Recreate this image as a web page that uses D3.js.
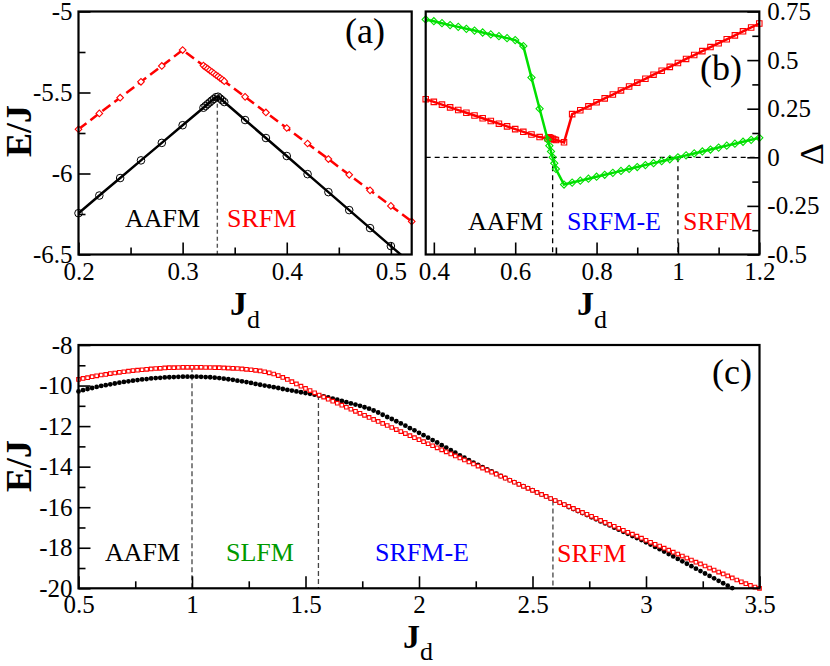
<!DOCTYPE html>
<html>
<head>
<meta charset="utf-8">
<script src="https://cdn.jsdelivr.net/npm/d3@7"></script>
<style>
  body { margin: 0; background: #fff; }
  svg { display: block; }
  svg text { font-family: "Liberation Serif", "Times New Roman", serif; }
</style>
</head>
<body>
<svg id="chart" width="830" height="666"></svg>
<script>
// ---- panel (a): energies near the AAFM / SRFM crossing ----
const jdA = [0.20, 0.22, 0.24, 0.26, 0.28, 0.30, 0.32, 0.322, 0.324, 0.326, 0.328, 0.330, 0.332,
  0.334, 0.336, 0.338, 0.340, 0.36, 0.38, 0.40, 0.42, 0.44, 0.46, 0.48, 0.50, 0.52];
const aafmA = [-6.245, -6.136, -6.028, -5.919, -5.811, -5.702, -5.594, -5.583, -5.572, -5.561, -5.550,
  -5.540, -5.529, -5.526, -5.537, -5.548, -5.559, -5.670, -5.781, -5.892, -6.004, -6.115, -6.226,
  -6.337, -6.448, -6.559];
const srfmA = [-5.727, -5.629, -5.532, -5.434, -5.336, -5.238, -5.334, -5.344, -5.353, -5.363, -5.372,
  -5.382, -5.392, -5.401, -5.411, -5.420, -5.430, -5.527, -5.623, -5.719, -5.815, -5.911, -6.008,
  -6.104, -6.200, -6.296];
const xTicksA = [0.2, 0.3, 0.4, 0.5], xMinorA = [0.25, 0.35, 0.45];
const yTicksA = [-5, -5.5, -6, -6.5], yMinorA = [-5.25, -5.75, -6.25];
const transA = 1 / 3;

// ---- panel (b): gaps ----
const jdB = [0.38, 0.40, 0.42, 0.44, 0.46, 0.48, 0.50, 0.52, 0.54, 0.56, 0.58, 0.60, 0.62, 0.64, 0.66,
  0.68, 0.684, 0.688, 0.692, 0.696, 0.70, 0.72, 0.74, 0.76, 0.78, 0.80, 0.82, 0.84, 0.86, 0.88, 0.90,
  0.92, 0.94, 0.96, 0.98, 1.00, 1.02, 1.04, 1.06, 1.08, 1.10, 1.12, 1.14, 1.16, 1.18, 1.20];
const greenB = [0.709, 0.700, 0.690, 0.680, 0.671, 0.661, 0.652, 0.642, 0.632, 0.623, 0.613, 0.603,
  0.572, 0.41, 0.25, 0.09, 0.06, 0.03, 0.0, -0.03, -0.06, -0.14, -0.13, -0.12, -0.11, -0.10, -0.09,
  -0.08, -0.07, -0.06, -0.05, -0.04, -0.03, -0.02, -0.01, 0.0, 0.01, 0.02, 0.03, 0.04, 0.05, 0.06,
  0.07, 0.08, 0.09, 0.10];
const redB = [0.299, 0.285, 0.271, 0.257, 0.243, 0.229, 0.215, 0.201, 0.187, 0.173, 0.159, 0.145,
  0.131, 0.117, 0.104, 0.097, 0.103, 0.099, 0.095, 0.092, 0.089, 0.077, 0.222, 0.242, 0.262, 0.283,
  0.303, 0.323, 0.344, 0.364, 0.384, 0.404, 0.425, 0.445, 0.465, 0.485, 0.506, 0.526, 0.546, 0.567,
  0.587, 0.607, 0.627, 0.648, 0.668, 0.688];
const xTicksB = [0.4, 0.6, 0.8, 1, 1.2], xMinorB = [0.5, 0.7, 0.9, 1.1];
const yTicksB = [0.75, 0.5, 0.25, 0, -0.25, -0.5], yMinorB = [0.625, 0.375, 0.125, -0.125, -0.375];
const transB = [0.692, 1.0];

// ---- panel (c): wide range of J_d ----
const jdC = [0.50, 0.52, 0.54, 0.56, 0.58, 0.60, 0.62, 0.64, 0.66, 0.68, 0.70, 0.72, 0.74, 0.76, 0.78,
  0.80, 0.82, 0.84, 0.86, 0.88, 0.90, 0.92, 0.94, 0.96, 0.98, 1.00, 1.02, 1.04, 1.06, 1.08, 1.10, 1.12,
  1.14, 1.16, 1.18, 1.20, 1.22, 1.24, 1.26, 1.28, 1.30, 1.32, 1.34, 1.36, 1.38, 1.40, 1.42, 1.44, 1.46,
  1.48, 1.50, 1.52, 1.54, 1.56, 1.58, 1.60, 1.62, 1.64, 1.66, 1.68, 1.70, 1.72, 1.74, 1.76, 1.78, 1.80,
  1.82, 1.84, 1.86, 1.88, 1.90, 1.92, 1.94, 1.96, 1.98, 2.00, 2.02, 2.04, 2.06, 2.08, 2.10, 2.12, 2.14,
  2.16, 2.18, 2.20, 2.22, 2.24, 2.26, 2.28, 2.30, 2.32, 2.34, 2.36, 2.38, 2.40, 2.42, 2.44, 2.46, 2.48,
  2.50, 2.52, 2.54, 2.56, 2.58, 2.60, 2.62, 2.64, 2.66, 2.68, 2.70, 2.72, 2.74, 2.76, 2.78, 2.80, 2.82,
  2.84, 2.86, 2.88, 2.90, 2.92, 2.94, 2.96, 2.98, 3.00, 3.02, 3.04, 3.06, 3.08, 3.10, 3.12, 3.14, 3.16,
  3.18, 3.20, 3.22, 3.24, 3.26, 3.28, 3.30, 3.32, 3.34, 3.36, 3.38, 3.40, 3.42, 3.44, 3.46, 3.48, 3.50];
const aafmC = [-10.29, -10.23, -10.17, -10.12, -10.07, -10.02, -9.98, -9.94, -9.90, -9.86, -9.82, -9.79,
  -9.76, -9.73, -9.70, -9.68, -9.65, -9.63, -9.62, -9.60, -9.59, -9.58, -9.57, -9.56, -9.56, -9.56,
  -9.56, -9.57, -9.58, -9.59, -9.61, -9.63, -9.66, -9.69, -9.72, -9.76,
  -9.79, -9.83, -9.87, -9.92, -9.96, -10.00, -10.04, -10.08, -10.12, -10.17,
  -10.21, -10.25, -10.29, -10.33, -10.37, -10.41, -10.45, -10.49, -10.54, -10.59,
  -10.64, -10.70, -10.76, -10.82, -10.88, -10.94, -11.00, -11.07, -11.14, -11.23,
  -11.33, -11.44, -11.55, -11.65, -11.76, -11.87, -11.98, -12.10, -12.21, -12.33,
  -12.45, -12.57, -12.69, -12.81, -12.94, -13.06, -13.19, -13.31, -13.44, -13.56,
  -13.68, -13.80, -13.91, -14.02, -14.13, -14.24, -14.35, -14.46, -14.56, -14.66,
  -14.76, -14.86, -14.96, -15.06, -15.16, -15.27, -15.37, -15.47, -15.58, -15.68,
  -15.78, -15.88, -15.99, -16.09, -16.19, -16.29, -16.39, -16.50, -16.60, -16.70,
  -16.80, -16.90, -17.01, -17.11, -17.21, -17.31, -17.42, -17.52, -17.62, -17.73,
  -17.84, -17.96, -18.07, -18.19, -18.31, -18.43, -18.55, -18.67, -18.79, -18.91,
  -19.03, -19.15, -19.27, -19.39, -19.51, -19.63, -19.75, -19.87, -19.99];
const srfmC = [-9.70, -9.65, -9.61, -9.56, -9.52, -9.48, -9.45, -9.41, -9.38, -9.35, -9.32, -9.29,
  -9.26, -9.24, -9.22, -9.20, -9.18, -9.16, -9.15, -9.13, -9.12, -9.12, -9.11, -9.10, -9.10, -9.10,
  -9.10, -9.10, -9.11, -9.11, -9.12, -9.12, -9.13, -9.14, -9.15, -9.16,
  -9.18, -9.20, -9.22, -9.25, -9.28, -9.32, -9.37, -9.43, -9.51, -9.60,
  -9.70, -9.81, -9.92, -10.03, -10.14, -10.25, -10.36, -10.47, -10.57, -10.67,
  -10.77, -10.87, -10.97, -11.07, -11.17, -11.27, -11.37, -11.47, -11.57, -11.67,
  -11.77, -11.87, -11.97, -12.07, -12.17, -12.27, -12.37, -12.47, -12.57, -12.67,
  -12.77, -12.87, -12.97, -13.07, -13.17, -13.27, -13.37, -13.47, -13.57, -13.67,
  -13.77, -13.87, -13.97, -14.07, -14.17, -14.27, -14.37, -14.47, -14.57, -14.67,
  -14.77, -14.87, -14.97, -15.07, -15.17, -15.27, -15.37, -15.47, -15.57, -15.67,
  -15.77, -15.87, -15.96, -16.06, -16.16, -16.26, -16.35, -16.45, -16.55, -16.65,
  -16.75, -16.85, -16.94, -17.04, -17.14, -17.24, -17.33, -17.43, -17.53, -17.63,
  -17.73, -17.83, -17.92, -18.02, -18.12, -18.22, -18.31, -18.41, -18.51, -18.61,
  -18.71, -18.80, -18.90, -19.00, -19.10, -19.20, -19.29, -19.39, -19.49, -19.59,
  -19.68, -19.77, -19.86, -19.94, -20.00];
const xTicksC = [0.5, 1, 1.5, 2, 2.5, 3, 3.5], xMinorC = [0.75, 1.25, 1.75, 2.25, 2.75, 3.25];
const yTicksC = [-8, -10, -12, -14, -16, -18, -20], yMinorC = [-9, -11, -13, -15, -17, -19];
const transC = [1.0, 1.557, 2.59];

const FONT = "Liberation Serif, Times New Roman, serif";
const RED = "#ff0000", GREEN = "#00e000", BLUE = "#0000ff", DKGREEN = "#009a00";
const svg = d3.select("#chart");

function makePanel(id, box, xDom, yDom) {
  const x = d3.scaleLinear().domain(xDom).range([box.l, box.r]);
  const y = d3.scaleLinear().domain(yDom).range([box.b, box.t]);
  svg.append("clipPath").attr("id", id)
    .append("rect").attr("x", box.l).attr("y", box.t)
    .attr("width", box.r - box.l).attr("height", box.b - box.t);
  const g = svg.append("g");
  return { x, y, g, box, clip: `url(#${id})` };
}

function drawAxis(p, make, scale, tr, major, minor, pad) {
  const a = p.g.append("g").attr("transform", tr);
  a.call(make(scale).tickValues(major).tickSize(-12).tickPadding(pad).tickFormat(d => String(d)));
  a.append("g").call(make(scale).tickValues(minor).tickSize(-7).tickFormat(""));
  a.selectAll(".domain").remove();
  a.selectAll("line").attr("stroke", "#000").attr("stroke-width", 1.6);
  a.attr("font-family", null).attr("font-size", null);
  a.selectAll("text").attr("fill", "#000")
    .style("font-family", FONT).style("font-size", "25px");
}

function frame(p) {
  const b = p.box;
  p.g.append("rect").attr("x", b.l).attr("y", b.t)
    .attr("width", b.r - b.l).attr("height", b.b - b.t)
    .attr("fill", "none").attr("stroke", "#000").attr("stroke-width", 2.2);
}

function series(xs, ys) {
  return ys.map((v, i) => [xs[i], v]);
}

function inside(p, d) {
  const [x0, x1] = p.x.domain(), [y0, y1] = p.y.domain();
  return d[0] >= x0 - 1e-9 && d[0] <= x1 + 1e-9 && d[1] >= y0 - 1e-9 && d[1] <= y1 + 1e-9;
}

function label(g, txt, x, y, color, size) {
  g.append("text").attr("x", x).attr("y", y)
    .style("font-family", FONT).style("font-size", (size || 26) + "px")
    .attr("fill", color).text(txt);
}

function yTitle(g, cx, cy) {
  g.append("text").attr("transform", `translate(${cx},${cy}) rotate(-90)`)
    .attr("text-anchor", "middle").style("font-family", FONT).style("font-weight", "bold")
    .style("font-size", "36px").text("E/J");
}

function xTitle(g, cx, base, drop) {
  const t = g.append("text").attr("x", cx).attr("y", base).attr("text-anchor", "middle")
    .style("font-family", FONT).style("font-weight", "bold").style("font-size", "34px");
  t.append("tspan").text("J");
  t.append("tspan").attr("dy", drop).style("font-size", "26px").style("font-weight", "normal").text("d");
}

const line = p => d3.line().x(d => p.x(d[0])).y(d => p.y(d[1]));
const sqSym = s => d3.symbol().type(d3.symbolSquare).size(s);

// ================= panel (a) =================
const pa = makePanel("clipA", { l: 78.5, r: 411.7, t: 11.5, b: 254.5 }, [0.2, 0.52], [-6.5, -5]);
const aBlack = series(jdA, aafmA), aRed = series(jdA, srfmA);

pa.g.append("line")
  .attr("x1", pa.x(transA)).attr("x2", pa.x(transA))
  .attr("y1", pa.y(d3.max(aafmA))).attr("y2", pa.y(-6.5))
  .attr("stroke", "#555").attr("stroke-width", 1.4).attr("stroke-dasharray", "4,3");

pa.g.append("path").datum(aRed).attr("clip-path", pa.clip)
  .attr("d", line(pa)).attr("fill", "none").attr("stroke", RED)
  .attr("stroke-width", 2.5).attr("stroke-dasharray", "10,5");
pa.g.append("g").selectAll("path").data(aRed.filter(d => inside(pa, d))).join("path")
  .attr("transform", d => `translate(${pa.x(d[0])},${pa.y(d[1])}) rotate(45)`)
  .attr("d", sqSym(22)).attr("fill", "#fff").attr("stroke", RED).attr("stroke-width", 1.1);

pa.g.append("path").datum(aBlack).attr("clip-path", pa.clip)
  .attr("d", line(pa)).attr("fill", "none").attr("stroke", "#000").attr("stroke-width", 2.5);
pa.g.append("g").selectAll("circle").data(aBlack.filter(d => inside(pa, d))).join("circle")
  .attr("cx", d => pa.x(d[0])).attr("cy", d => pa.y(d[1])).attr("r", 3.8)
  .attr("fill", "none").attr("stroke", "#000").attr("stroke-width", 1);

drawAxis(pa, d3.axisBottom, pa.x, `translate(0,${pa.box.b})`, xTicksA, xMinorA, 8);
drawAxis(pa, d3.axisLeft, pa.y, `translate(${pa.box.l},0)`, yTicksA, yMinorA, 6);
frame(pa);
label(pa.g, "AAFM", 125, 227, "#000");
label(pa.g, "SRFM", 227, 227, RED);
label(pa.g, "(a)", 345, 43, "#000", 36);
yTitle(pa.g, 31, 131);
xTitle(pa.g, 245, 315, 13);

// ================= panel (b) =================
const pb = makePanel("clipB", { l: 425.7, r: 759.3, t: 11.5, b: 254.5 }, [0.38, 1.2], [-0.5, 0.75]);
const bGreen = series(jdB, greenB), bRed = series(jdB, redB);

const dashB = pb.g.append("g").attr("stroke", "#000").attr("stroke-width", 1.3)
  .attr("stroke-dasharray", "5,4");
dashB.append("line").attr("x1", pb.x(0.38)).attr("x2", pb.x(1.2))
  .attr("y1", pb.y(0)).attr("y2", pb.y(0));
dashB.selectAll("line.v").data(transB).join("line").attr("class", "v")
  .attr("x1", d => pb.x(d)).attr("x2", d => pb.x(d))
  .attr("y1", pb.y(0)).attr("y2", pb.y(-0.5));

pb.g.append("path").datum(bRed).attr("d", line(pb))
  .attr("fill", "none").attr("stroke", RED).attr("stroke-width", 2.5);
pb.g.append("g").selectAll("path").data(bRed).join("path")
  .attr("transform", d => `translate(${pb.x(d[0])},${pb.y(d[1])})`)
  .attr("d", sqSym(30)).attr("fill", "none").attr("stroke", RED).attr("stroke-width", 1.1);

pb.g.append("path").datum(bGreen).attr("d", line(pb))
  .attr("fill", "none").attr("stroke", GREEN).attr("stroke-width", 2.5);
pb.g.append("g").selectAll("path").data(bGreen).join("path")
  .attr("transform", d => `translate(${pb.x(d[0])},${pb.y(d[1])}) rotate(45)`)
  .attr("d", sqSym(26)).attr("fill", "none").attr("stroke", GREEN).attr("stroke-width", 1.1);

drawAxis(pb, d3.axisBottom, pb.x, `translate(0,${pb.box.b})`, xTicksB, xMinorB, 8);
drawAxis(pb, d3.axisRight, pb.y, `translate(${pb.box.r},0)`, yTicksB, yMinorB, 8);
frame(pb);
label(pb.g, "AAFM", 468, 230, "#000");
label(pb.g, "SRFM-E", 567, 230, BLUE);
label(pb.g, "SRFM", 683, 230, RED);
label(pb.g, "(b)", 700, 80, "#000", 36);
pb.g.append("text").attr("transform", "translate(823,154) rotate(-90)")
  .attr("text-anchor", "middle").style("font-family", FONT).style("font-size", "34px").text("Δ");
xTitle(pb.g, 592, 315, 13);

// ================= panel (c) =================
const pc = makePanel("clipC", { l: 78.5, r: 759.5, t: 345, b: 588.3 }, [0.5, 3.5], [-20, -8]);
const cBlack = series(jdC, aafmC), cRed = series(jdC, srfmC);

pc.g.append("g").selectAll("line").data(transC).join("line")
  .attr("x1", d => pc.x(d)).attr("x2", d => pc.x(d))
  .attr("y1", d => pc.y(d3.max([aafmC[d3.bisectLeft(jdC, d)], srfmC[d3.bisectLeft(jdC, d)]])))
  .attr("y2", pc.y(-20))
  .attr("stroke", "#444").attr("stroke-width", 1.3).attr("stroke-dasharray", "5,3");

pc.g.append("g").selectAll("circle").data(cBlack).join("circle")
  .attr("cx", d => pc.x(d[0])).attr("cy", d => pc.y(d[1])).attr("r", 2.4).attr("fill", "#000");
pc.g.append("g").selectAll("path").data(cRed).join("path")
  .attr("transform", d => `translate(${pc.x(d[0])},${pc.y(d[1])})`)
  .attr("d", sqSym(13)).attr("fill", "#fff").attr("stroke", RED).attr("stroke-width", 1.1);

drawAxis(pc, d3.axisBottom, pc.x, `translate(0,${pc.box.b})`, xTicksC, xMinorC, 7);
drawAxis(pc, d3.axisLeft, pc.y, `translate(${pc.box.l},0)`, yTicksC, yMinorC, 6);
frame(pc);
label(pc.g, "AAFM", 105, 561, "#000");
label(pc.g, "SLFM", 226, 561, DKGREEN);
label(pc.g, "SRFM-E", 375, 561, BLUE);
label(pc.g, "SRFM", 557, 562, RED);
label(pc.g, "(c)", 712, 384, "#000", 36);
yTitle(pc.g, 31, 466);
xTitle(pc.g, 418, 648, 12);
</script>
</body>
</html>
